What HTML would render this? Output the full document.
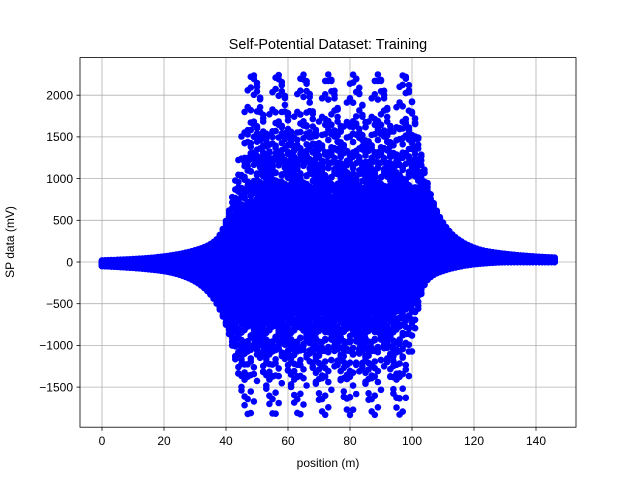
<!DOCTYPE html>
<html><head><meta charset="utf-8"><style>
html,body{margin:0;padding:0;background:#fff;}
svg{display:block;font-family:"Liberation Sans","DejaVu Sans",sans-serif;}
</style></head><body>
<svg id="chart" width="640" height="480" viewBox="0 0 640 480" xmlns="http://www.w3.org/2000/svg">
<rect width="640" height="480" fill="#fff"/>
<g id="grid"></g>
<g id="marks"></g>
<rect x="80" y="57.6" width="496" height="369.6" fill="none" stroke="#000" stroke-width="0.8"/>
<g id="axes"></g>
<text x="328" y="49" font-size="14.4" text-anchor="middle">Self-Potential Dataset: Training</text>
<text x="328" y="467" font-size="12" text-anchor="middle">position (m)</text>
<text transform="translate(14,242) rotate(-90)" font-size="12" text-anchor="middle">SP data (mV)</text>
</svg>
<script>
// data
const xTicks = [0, 20, 40, 60, 80, 100, 120, 140];
const yTicks = [-1500, -1000, -500, 0, 500, 1000, 1500, 2000];
const sourceCenters = [48.6, 56.7, 64.8, 73, 81.2, 89, 97.4];
const sourceDepths = [6.5, 7.5, 8.5, 10, 12, 14, 17, 20];
const depthStrength = [1, 1, 1, 1, 1.1, 1.2, 1.35, 1.5];
const polarAngles = [90, 75, 60, 45, 30, 15, 0, -15, -30, -45, -60];
const sourceStrength = [95000, 95000, 95000, 95000, 95000, 95000, 95000, 90000, 88000, 86000, 85000];
const positions = [];
for (let p = 0; p <= 146; p += 1) positions.push(p);

const X0 = 102, XS = 3.1, Y0 = 262, YS = 41.7 / 500;
function xs(v){ return X0 + v * XS; }
function ys(v){ return Y0 - v * YS; }
const NS = "http://www.w3.org/2000/svg";
const grid = document.getElementById('grid');
const axes = document.getElementById('axes');
const marks = document.getElementById('marks');

xTicks.forEach(t => {
  const x = xs(t);
  const g = document.createElementNS(NS, 'line');
  
  
  g.setAttribute('x1', x); g.setAttribute('x2', x); g.setAttribute('y1', 57.6); g.setAttribute('y2', 427.2);
  g.setAttribute('stroke', '#b0b0b0'); g.setAttribute('stroke-width', '0.8');
  grid.appendChild(g);
  const tk = document.createElementNS(NS, 'line');
  
  
  tk.setAttribute('x1', x); tk.setAttribute('x2', x); tk.setAttribute('y1', 427.2); tk.setAttribute('y2', 430.7);
  tk.setAttribute('stroke', '#000'); tk.setAttribute('stroke-width', '0.8');
  axes.appendChild(tk);
  const tx = document.createElementNS(NS, 'text');
  
  
  tx.setAttribute('x', x); tx.setAttribute('y', 445); tx.setAttribute('font-size', '12'); tx.setAttribute('text-anchor', 'middle');
  tx.textContent = t;
  axes.appendChild(tx);
});
yTicks.forEach(t => {
  const y = ys(t);
  const g = document.createElementNS(NS, 'line');
  
  
  g.setAttribute('x1', 80); g.setAttribute('x2', 576); g.setAttribute('y1', y); g.setAttribute('y2', y);
  g.setAttribute('stroke', '#b0b0b0'); g.setAttribute('stroke-width', '0.8');
  grid.appendChild(g);
  const tk = document.createElementNS(NS, 'line');
  
  
  tk.setAttribute('x1', 76.5); tk.setAttribute('x2', 80); tk.setAttribute('y1', y); tk.setAttribute('y2', y);
  tk.setAttribute('stroke', '#000'); tk.setAttribute('stroke-width', '0.8');
  axes.appendChild(tk);
  const tx = document.createElementNS(NS, 'text');
  
  
  tx.setAttribute('x', 73); tx.setAttribute('y', y + 4.3); tx.setAttribute('font-size', '12'); tx.setAttribute('text-anchor', 'end');
  tx.textContent = t === 0 ? '0' : (t < 0 ? '\u2212' + Math.abs(t) : t);
  axes.appendChild(tx);
});

const R = 3.3;
sourceCenters.forEach(c => {
  sourceDepths.forEach((h, hi) => {
    polarAngles.forEach((a, ai) => {
      const K = sourceStrength[ai] * depthStrength[hi];
      const ar = a * Math.PI / 180;
      let d = '';
      positions.forEach(p => {
        const dx = p - c;
        const v = K * (dx * Math.cos(ar) + h * Math.sin(ar)) / Math.pow(dx * dx + h * h, 1.5);
        const px = xs(p), py = ys(v);
        d += 'M' + (px - R).toFixed(1) + ' ' + py.toFixed(1) + 'a' + R + ' ' + R + ' 0 1 0 ' + (2 * R) + ' 0a' + R + ' ' + R + ' 0 1 0 ' + (-2 * R) + ' 0';
      });
      const path = document.createElementNS(NS, 'path');
      
      
      path.setAttribute('d', d);
      path.setAttribute('fill', '#0000ff');
      marks.appendChild(path);
    });
  });
});
</script>
</body></html>
